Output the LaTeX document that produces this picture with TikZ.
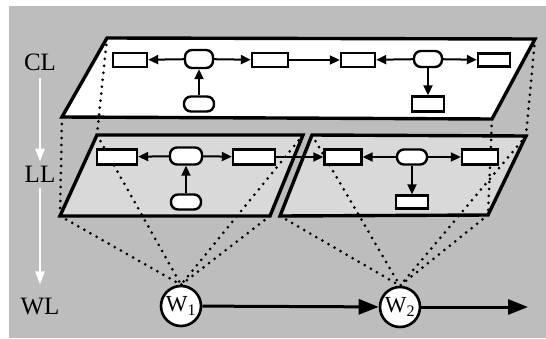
\documentclass[tikz,border=0pt]{standalone}
\usepackage{fontspec}
\setmainfont{Liberation Serif}
\usetikzlibrary{arrows.meta}
\definecolor{bggray}{gray}{0.74}
\definecolor{llgray}{gray}{0.85}
\begin{document}
\begin{tikzpicture}[x=1pt,y=-1pt,
  plane/.style={line width=3.4pt, line join=miter, draw=black},
  rectbox/.style={draw=black, line width=2.4pt, fill=white, inner sep=0pt},
  roundbox/.style={rectbox, rounded corners=7pt},
  arr/.style={line width=2pt, -{Triangle[length=10pt,width=9pt]}},
  bigarr/.style={line width=3pt, -{Triangle[length=20pt,width=15pt]}},
  dotl/.style={line width=3pt, line cap=round, dash pattern=on 0pt off 7pt},
  wnode/.style={circle, draw=black, line width=2.6pt, fill=white, minimum size=40pt, inner sep=0pt, font=\fontsize{23}{23}\selectfont},
  lvl/.style={font=\fontsize{25}{25}\selectfont, inner sep=0pt},
  whitearr/.style={draw=white, line width=2.6pt, -{Triangle[length=13pt,width=9pt]}, fill=white}
]
\useasboundingbox (0,0) rectangle (546,338);
\fill[white] (0,0) rectangle (546,338);
\fill[bggray] (9,6) rectangle (546,338);

% plane corners
\coordinate (c1) at (62,117);
\coordinate (c2) at (107,38);
\coordinate (c3) at (535,39);
\coordinate (c4) at (492,119);
\coordinate (l1) at (60,216);
\coordinate (l2) at (97,135);
\coordinate (l3) at (303,135);
\coordinate (l4) at (270,216);
\coordinate (r1) at (280,216);
\coordinate (r2) at (312,135);
\coordinate (r3) at (526,136);
\coordinate (r4) at (488,215);

% planes
\filldraw[plane, fill=llgray] (l1) -- (l2) -- (l3) -- (l4) -- cycle;
\filldraw[plane, fill=llgray] (r1) -- (r2) -- (r3) -- (r4) -- cycle;
\filldraw[plane, fill=white] (c1) -- (c2) -- (c3) -- (c4) -- cycle;

% W nodes
\node[wnode] (w1) at (181,306) {W\textsubscript{1}};
\node[wnode] (w2) at (400,307) {W\textsubscript{2}};
\coordinate (wend) at (528,307);

% dotted projection lines
\draw[dotl] (c2) -- (l2);
\draw[dotl] (c1) -- (l1);
\draw[dotl] (c3) -- (r3);
\draw[dotl] (c4) -- (r4);
\foreach \p in {l1,l2,l3,l4} \draw[dotl] (\p) -- (w1.north);
\foreach \p in {r1,r2,r3,r4} \draw[dotl] (\p) -- (w2.north);

% CL nodes
\node[rectbox, minimum width=34pt, minimum height=14pt] (a) at (130,60) {};
\node[roundbox, minimum width=28pt, minimum height=18pt] (b) at (199,59) {};
\node[rectbox, minimum width=36pt, minimum height=14pt] (c) at (270,60) {};
\node[rectbox, minimum width=34pt, minimum height=14pt] (d) at (358,60) {};
\node[roundbox, minimum width=28pt, minimum height=16pt] (e) at (428,59) {};
\node[rectbox, minimum width=32pt, minimum height=13pt] (f) at (494,60) {};
\node[roundbox, minimum width=30pt, minimum height=15pt] (g) at (199,104) {};
\node[rectbox, minimum width=32pt, minimum height=15pt] (h) at (428,104) {};

% LL left nodes
\node[rectbox, minimum width=40pt, minimum height=15pt] (i) at (117,157) {};
\node[roundbox, minimum width=32pt, minimum height=17pt] (j) at (186,156) {};
\node[rectbox, minimum width=42pt, minimum height=15pt] (k) at (254,157) {};
\node[roundbox, minimum width=30pt, minimum height=15pt] (l) at (186,202) {};

% LL right nodes
\node[rectbox, minimum width=37pt, minimum height=15pt] (m) at (343,157) {};
\node[roundbox, minimum width=30pt, minimum height=15pt] (n) at (412,157) {};
\node[rectbox, minimum width=36pt, minimum height=15pt] (o) at (480,157) {};
\node[rectbox, minimum width=32pt, minimum height=13pt] (p) at (412,202) {};

% CL arrows
\draw[arr] (b) -- (a);
\draw[arr] (b) -- (c);
\draw[arr] (c) -- (d);
\draw[arr] (e) -- (d);
\draw[arr] (e) -- (f);
\draw[arr] (g) -- (b);
\draw[arr] (e) -- (h);

% LL arrows
\draw[arr] (j) -- (i);
\draw[arr] (j) -- (k);
\draw[arr] (l) -- (j);
\draw[arr] (k) -- (m);
\draw[arr] (n) -- (m);
\draw[arr] (n) -- (o);
\draw[arr] (n) -- (p);

% WL arrows
\draw[bigarr] (w1) -- (w2);
\draw[bigarr] (w2) -- (wend);

% level labels
\node[lvl] (cl) at (40,62) {CL};
\node[lvl] (ll) at (40,174) {LL};
\node[lvl] (wl) at (40,306) {WL};
\draw[whitearr] ([yshift=-7pt]cl.south) -- ([yshift=4pt]ll.north);
\draw[whitearr] ([yshift=-6pt]ll.south) -- ([yshift=13pt]wl.north);
\end{tikzpicture}
\end{document}
